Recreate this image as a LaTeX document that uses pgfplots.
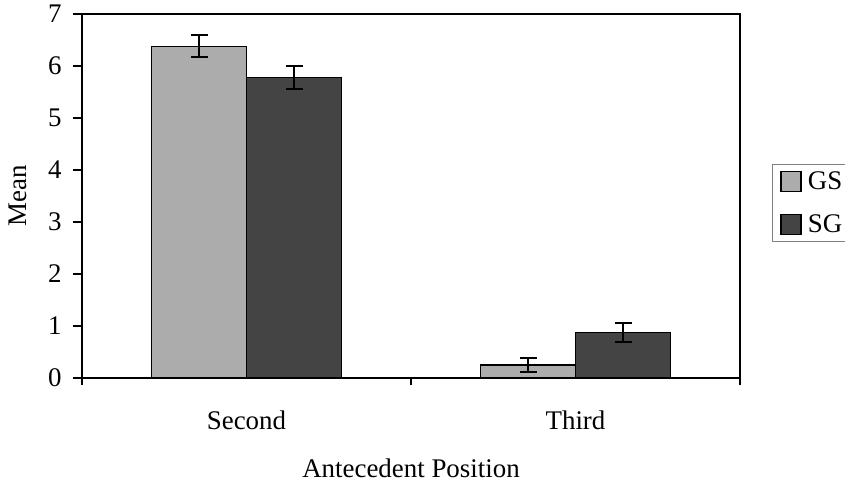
\documentclass[border=0pt]{standalone}
\usepackage{fontspec}
\setmainfont{Liberation Serif}
\usepackage{pgfplots}
\pgfplotsset{compat=1.18}
\definecolor{gslight}{RGB}{172,172,172}
\definecolor{sgdark}{RGB}{68,68,68}
\begin{document}
\begin{tikzpicture}[font=\fontsize{27}{32}\selectfont]
\useasboundingbox (-82bp,-107bp) rectangle (763bp,378bp);
\begin{axis}[
  at={(0,0)}, anchor=south west,
  scale only axis,
  width=658bp, height=364bp,
  xmin=0, xmax=2, ymin=0, ymax=7,
  ytick={0,1,2,3,4,5,6,7},
  xtick={0.5,1.5},
  xticklabels={Second,Third},
  minor xtick={0,1,2},
  major x tick style={draw=none},
  tick align=outside,
  major tick length=9bp,
  minor tick length=7bp,
  ytick pos=left, xtick pos=bottom,
  axis line style={line width=1.6bp},
  tick style={line width=1.2bp, black},
  /pgf/number format/assume math mode=true,
  xticklabel style={yshift=-20bp},
  yticklabel style={xshift=-8bp},
  ylabel={Mean},
  xlabel={Antecedent Position},
  ylabel style={at={(rel axis cs:0,0.5)}, anchor=center, yshift=64bp},
  xlabel style={at={(rel axis cs:0.5,0)}, anchor=base, yshift=-99bp},
  ybar=0pt,
  bar width=95bp,
  legend style={at={(rel axis cs:1.0486,0.481)}, anchor=west, draw=gray, line width=0.8bp,
    row sep=20bp, inner xsep=8bp, inner ysep=5bp,
    nodes={inner xsep=6bp}},
  legend image code/.code={\draw[#1, draw=black, line width=1.5bp] (0bp,-10bp) rectangle (20bp,10bp);},
  legend cell align=left,
]
\addplot[fill=gslight, draw=black, line width=1.3bp,
  error bars/.cd, y dir=both, y explicit,
  error bar style={line width=1.8bp, black},
  error mark options={mark size=8.5bp, line width=1.8bp, black, rotate=90}]
  coordinates {(0.5,6.38) +- (0,0.21) (1.5,0.25) +- (0,0.13)};
\addplot[fill=sgdark, draw=black, line width=1.3bp,
  error bars/.cd, y dir=both, y explicit,
  error bar style={line width=1.8bp, black},
  error mark options={mark size=8.5bp, line width=1.8bp, black, rotate=90}]
  coordinates {(0.5,5.78) +- (0,0.22) (1.5,0.88) +- (0,0.18)};
\legend{GS,SG}
\end{axis}
\end{tikzpicture}
\end{document}
